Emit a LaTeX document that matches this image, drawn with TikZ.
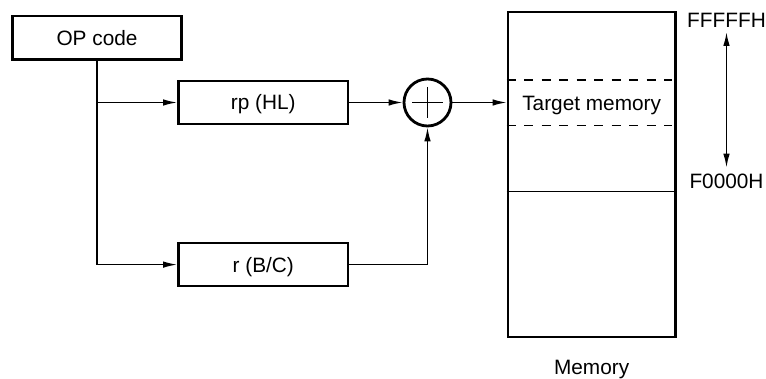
\documentclass[tikz,border=0pt]{standalone}
\usepackage{fontspec}
\setmainfont{Liberation Sans}
\usetikzlibrary{arrows.meta}
\usetikzlibrary{positioning}

\begin{document}
\begin{tikzpicture}[x=1pt, y=-1pt,
        every node/.style={font=\fontsize{20.8}{24}\selectfont, inner sep=0pt, text height=14.9pt, text depth=0pt},
        regbox/.style={draw, line width=2.8pt, minimum width=169.5pt, minimum height=43pt},
        link/.style={line width=1.4pt, -{Latex[length=14pt, width=6.5pt]}}]
        \useasboundingbox (0,0) rectangle (766,379);
        \node[regbox, minimum height=43.5pt] (op-code) at (97,37.75) {OP code};
        \node[regbox] (rp-hl) at (263.25,102.5) {rp (HL)};
        \node[regbox] (r-bc) at (263.25,264.6) {r (B/C)};
        \node[circle, draw, line width=2.8pt, minimum size=47pt] (adder) at (427.5,102.5) {};
        \draw[line width=1.4pt] (adder.center) ++(-15.5,0) -- ++(31,0)
                (adder.center) ++(0,-15.5) -- ++(0,31);
        \node[draw, line width=2.8pt, minimum width=167.3pt, minimum height=325pt] (memory) at (591.65,174.5) {};
        \draw[line width=1.4pt, dash pattern=on 9pt off 8.5pt] (memory.west |- 0,80) -- ([xshift=-5pt]memory.east |- 0,80);
        \draw[line width=1.4pt, dash pattern=on 9pt off 8.5pt] (memory.west |- 0,125.7) -- ([xshift=-5pt]memory.east |- 0,125.7);
        \draw[line width=1.4pt] (memory.west |- 0,191.7) -- (memory.east |- 0,191.7);
        \node (target) at (591.65,102.85) {Target memory};
        \node[anchor=base] (memory-label) at (591.65,374) {Memory};
        \node[anchor=base] (hi-addr) at (726.5,28) {FFFFFH};
        \node[anchor=base] (lo-addr) at (726.5,188.3) {F0000H};
        \draw[link] (op-code.south) |- (rp-hl.west);
        \draw[link] (op-code.south) |- (r-bc.west);
        \draw[link] (rp-hl.east) -- (adder.west);
        \draw[link] (r-bc.east) -| (adder.south);
        \draw[link] (adder.east) -- (memory.west |- adder.east);
        \draw[line width=1.6pt, {Latex[length=14pt, width=6.5pt]}-{Latex[length=14pt, width=6.5pt]},
                shorten <=3.7pt, shorten >=5.5pt] (hi-addr.south) -- (lo-addr.north);
\end{tikzpicture}
\end{document}
